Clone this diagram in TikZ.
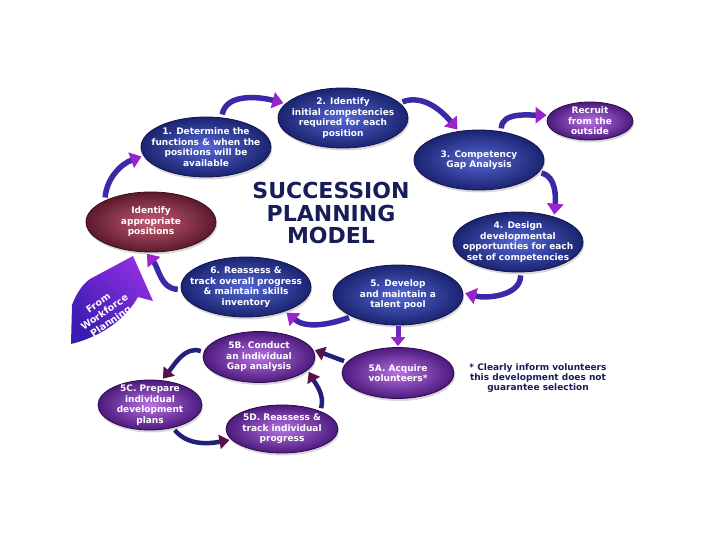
\documentclass[tikz,border=0pt]{standalone}
\usepackage{fontspec}
\setmainfont{DejaVu Sans}
\usetikzlibrary{shapes.geometric,arrows.meta,shadows}
\definecolor{navytxt}{HTML}{161D58}
\definecolor{bin}{HTML}{5467D6}
\definecolor{bout}{HTML}{1B2470}
\definecolor{bbord}{HTML}{0F154A}
\definecolor{rin}{HTML}{C45C74}
\definecolor{rout}{HTML}{5C1A2C}
\definecolor{rbord}{HTML}{3A0E1A}
\definecolor{pin}{HTML}{B870E4}
\definecolor{pout}{HTML}{4C1A7C}
\definecolor{pbord}{HTML}{2C0A4C}
\definecolor{ashaft}{HTML}{3A2AA8}
\definecolor{atip}{HTML}{9A24CC}
\definecolor{dshaft}{HTML}{23207A}
\definecolor{dtip}{HTML}{5C1048}
\definecolor{vshaft}{HTML}{6A2AB8}
\definecolor{bigA}{HTML}{3A1CB0}
\definecolor{bigB}{HTML}{8E2EE0}
\tikzset{
  ell/.style={ellipse, inner sep=0pt, line width=0.8pt,
    drop shadow={shadow xshift=1pt, shadow yshift=-2.5pt, opacity=0.3}},
  bigell/.style={ell, minimum width=130pt, minimum height=60pt},
  smallell/.style={ell, minimum width=112pt, minimum height=51pt},
  blueell/.style={bigell, draw=bbord, inner color=bin, outer color=bout},
  redell/.style={bigell, draw=rbord, inner color=rin, outer color=rout},
  purpell/.style={smallell, draw=pbord, inner color=pin, outer color=pout},
  lbl/.style={text=white, font=\bfseries\fontsize{9}{10.5}\selectfont, align=center, inner sep=0pt},
  flow/.style={line width=5.5pt, draw=ashaft, shorten <=3pt, shorten >=2pt,
    -{Triangle[width=16pt,length=11pt,color=atip]}},
  dflow/.style={line width=4.5pt, draw=dshaft, shorten <=3pt, shorten >=2pt,
    -{Triangle[width=14pt,length=10pt,color=dtip]}},
}
\begin{document}
\begin{tikzpicture}[x=1pt,y=-1pt]
\fill[white] (0,0) rectangle (720,540);
\useasboundingbox (0,0) rectangle (720,540);

% big input arrow
\shade[left color=bigA, right color=bigB, shading angle=135]
  (72,305) .. controls (77,292) and (83,284) .. (90,279) -- (133,256) -- (153,301) -- (138,297)
  .. controls (125,320) and (100,337) .. (71,344) -- cycle;
\node[text=white, font=\bfseries\fontsize{9.5}{11}\selectfont, align=center, rotate=35, inner sep=0pt]
  (wfp) at (105,313) {From\\Workforce\\Planning};

% ellipses
\node[blueell] (n1) at (206,147) {};
\node[lbl] (n1t) at (n1) {1. Determine the\\functions \& when the\\positions will be\\available};
\node[blueell] (n2) at (343,118) {};
\node[lbl] (n2t) at (n2) {2. Identify\\initial competencies\\required for each\\position};
\node[blueell] (n3) at (479,160) {};
\node[lbl] (n3t) at (n3) {3. Competency\\Gap Analysis};
\node[purpell, minimum width=86pt, minimum height=38pt] (rec) at (590,121) {};
\node[lbl] (rect) at (rec) {Recruit\\from the\\outside};
\node[blueell] (n4) at (518,242) {};
\node[lbl] (n4t) at (n4) {4. Design\\developmental\\opportunties for each\\set of competencies};
\node[blueell] (n5) at (398,295) {};
\node[lbl] (n5t) at (n5) {5. Develop\\and maintain a\\talent pool};
\node[blueell] (n6) at (246,287) {};
\node[lbl] (n6t) at (n6) {6. Reassess \&\\track overall progress\\\& maintain skills\\inventory};
\node[redell] (idp) at (151,222) {};
\node[lbl] (idpt) at (idp) {Identify\\appropriate\\positions};
\node[purpell] (n5a) at (398,373) {};
\node[lbl] (n5at) at (n5a) {5A. Acquire\\volunteers*};
\node[purpell] (n5b) at (259,357) {};
\node[lbl] (n5bt) at (n5b) {5B. Conduct\\an individual\\Gap analysis};
\node[purpell, minimum width=104pt, minimum height=50pt] (n5c) at (150,405) {};
\node[lbl] (n5ct) at (n5c) {5C. Prepare\\individual\\development\\plans};
\node[purpell, minimum height=48pt] (n5d) at (282,429) {};
\node[lbl] (n5dt) at (n5d) {5D. Reassess \&\\track individual\\progress};

% title and note
\node[text=navytxt, font=\bfseries\fontsize{22}{22.5}\selectfont, align=center, inner sep=0pt]
  (title) at (331,213) {SUCCESSION\\PLANNING\\MODEL};
\node[text=navytxt, font=\bfseries\fontsize{9}{10}\selectfont, align=center, inner sep=0pt]
  (note) at (538,378) {* Clearly inform volunteers\\this development does not\\guarantee selection};

% connectors
\draw[flow] (idp.155) to[out=85,in=200] (n1.188);
\draw[flow] (n1.62) to[out=80,in=165] (n2.166);
\draw[flow] (n2.15) to[out=20,in=130] (n3.125);
\draw[flow] (n3.52) to[out=90,in=180] (rec.172);
\draw[flow] (n3.-12) to[out=-10,in=85] (n4.35);
\draw[flow] (n4.-85) to[out=-90,in=-15] (n5.2);
\draw[flow] (n5.205) to[out=200,in=-40] (n6.-32);
\draw[flow] (n6.182) to[out=180,in=-50] (idp.-100);
\draw[line width=5pt, draw=vshaft, shorten <=1pt, shorten >=1pt,
  -{Triangle[width=14pt,length=9pt,color=atip]}] (n5.south) -- (n5a.north);
\draw[dflow] (n5a.168) -- (n5b.8);
\draw[dflow] (n5d.25) to[out=75,in=-60] (n5b.-15);
\draw[dflow] (n5b.175) to[out=160,in=50] (n5c.65);
\draw[dflow] (n5c.-45) to[out=-50,in=190] (n5d.192);
\end{tikzpicture}
\end{document}
